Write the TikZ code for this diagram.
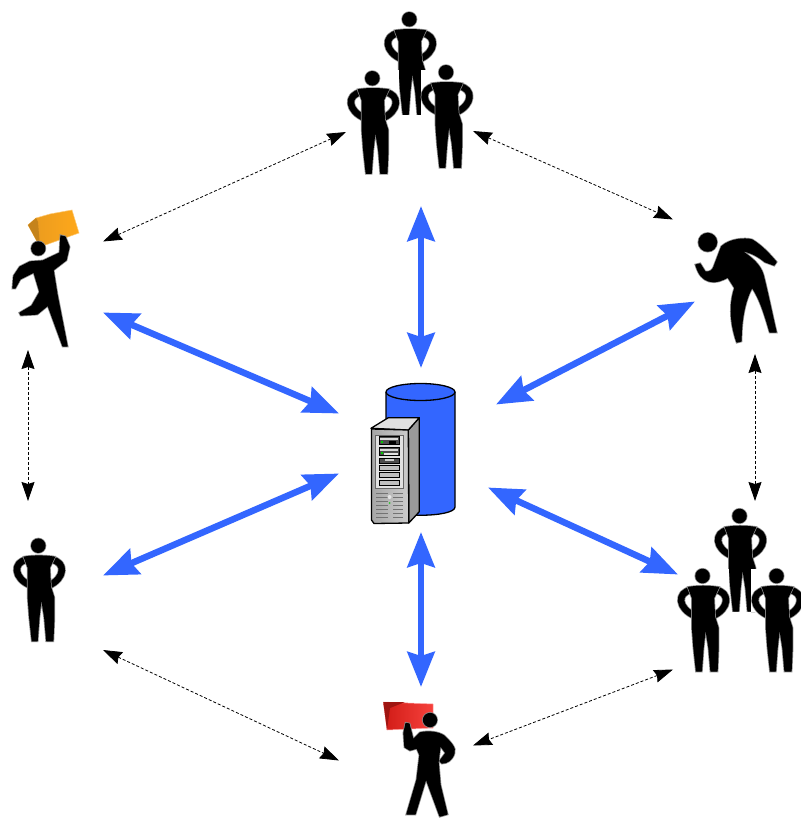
\documentclass[tikz,border=0pt]{standalone}
\usetikzlibrary{arrows.meta,shapes.geometric}
\definecolor{dbblue}{HTML}{3366FF}
\definecolor{folderor}{HTML}{FFA81A}
\definecolor{folderdk}{HTML}{E89A20}
\definecolor{folderrd}{HTML}{F5201A}
\tikzset{
  fig/.style={preaction={draw=black!45,line width=2.8pt},fill=black,draw=black,line width=1.3pt,line join=round},
  limb/.style={draw=black,line cap=round,line join=round,line width=6.5pt},
  limbglow/.style={draw=black!45,line cap=round,line join=round,line width=8pt},
  bigarrow/.style={draw=dbblue,line width=6.5pt,{Stealth[length=35pt,width=27pt,inset=4pt]}-{Stealth[length=35pt,width=27pt,inset=4pt]}},
  thinarrow/.style={draw=black,line width=.8pt,dash pattern=on 3pt off 2pt,{Stealth[length=19pt,width=13pt,inset=2pt]}-{Stealth[length=19pt,width=13pt,inset=2pt]}},
  srv/.style={draw=black,line width=1.3pt,line join=round},
  bay/.style={draw=black,fill=black!25,line width=.5pt}
}
\newcommand{\standfig}[2]{%
  \begin{scope}[shift={(#1,#2)}]
    \path[limbglow] (-11,14) .. controls (-26,16) and (-25,33) .. (-7,40);
    \path[limbglow] (13,14) .. controls (28,16) and (27,33) .. (10,40);
    \path[limb] (-11,14) .. controls (-26,16) and (-25,33) .. (-7,40);
    \path[limb] (13,14) .. controls (28,16) and (27,33) .. (10,40);
    \path[fig] (0,0) circle (6.6);
    \path[fig] (-14,11.5) .. controls (-5,10) and (6,10) .. (16,11.5) -- (11,22) -- (12,41) -- (15.5,52) -- (15.5,72) -- (14.5,95) -- (8.5,95) -- (6.5,72) -- (3,50) -- (0.5,72) -- (-1.2,95) -- (-6,95) -- (-8.5,72) -- (-10,52) -- (-10,41) -- (-10,22) -- cycle;
  \end{scope}}
\begin{document}
\begin{tikzpicture}[x=1pt,y=-1pt]
\useasboundingbox (0,0) rectangle (800,818);
\fill[white] (0,0) rectangle (800,818);

% top group
\standfig{409.3}{19.3}
\fill[white] (390,70) rectangle (398.5,116);
\fill[white] (420.5,70) rectangle (430,116);
\fill[white] (398,115.5) rectangle (421,119);
\standfig{372.3}{78.3}
\standfig{446}{72.3}
% bottom-right group
\standfig{739.5}{516}
\fill[white] (720,569) rectangle (729,612);
\fill[white] (751,569) rectangle (760,612);
\fill[white] (729,612) rectangle (751,616);
\standfig{702.5}{576}
\standfig{776.5}{576}
% single person
\standfig{38.3}{545.7}

% walking figure with orange folder
\shade[left color=folderdk,right color=folderor,draw=folderor!60!white,line width=.5pt] (28,225) -- (36,218) -- (50,214) -- (72,210) -- (79,233) -- (40,247) -- cycle;
\fill[folderdk!85!black] (28,225) -- (36,218) -- (38,222) -- (40,247) -- cycle;
\path[fig] (38.3,248.5) circle (6.5);
\path[fig] (30,262) -- (43,261) -- (60,253) -- (61,236) -- (65,237) -- (69,247) -- (66,260) -- (53,270) -- (57,295) -- (67,346) -- (63,346) -- (48,305) -- (37,314) -- (21,315) -- (20,313) -- (32,306) -- (40,292) -- (34,272) -- (20,279) -- (15,288) -- (13,288) -- (14,276) -- (20,267) -- cycle;

% bending man
\path[fig] (707.7,242.3) circle (8.8);
\path[fig] (721.7,246.7) .. controls (730,239) and (745,238) .. (752,240) .. controls (762,246) and (770,255) .. (776,262) -- (774,265) -- (765,261.7) .. controls (757,255) and (750,252) .. (740,250) .. controls (752,258) and (760,265) .. (763,275) .. controls (768,295) and (772,315) .. (776,332) -- (770,332) .. controls (765,315) and (760,298) .. (752,287) .. controls (745,300) and (741,318) .. (741,341) -- (737,342) .. controls (731,325) and (729,305) .. (735,288) -- (728,277) .. controls (722,280) and (716,283) .. (709,281) .. controls (703,279) and (699,275) .. (696,265) -- (700,264) -- (705,272) .. controls (710,273) and (713,270) .. (714,267) -- cycle;

% red folder figure
\shade[left color=folderrd!85!black,right color=folderrd!85!white,draw=red!35!white,line width=.5pt] (383.3,702) -- (433,704) -- (433,728) -- (387,730) -- cycle;
\fill[folderrd!65!black] (383.3,702) -- (405,702) -- (390,708) -- (387,730) -- cycle;
\path[fig] (430,720) circle (6.5);
\path[fig] (406,723.5) -- (409,724) -- (413,740) -- (420,733) .. controls (428,731) and (438,732) .. (444,736) .. controls (450,742) and (456,748) .. (454,753) .. controls (452,760) and (447,763) .. (442,763) -- (440,761) -- (446,753) -- (440,745) -- (438,762) -- (440,785) -- (447,814) -- (440,816) -- (426,778) -- (415,814) -- (407,814) -- (417,780) -- (420,755) -- (417,748) -- (410,750) -- (405,747) -- (404,733) -- cycle;

% database cylinder and server
\path[srv,fill=dbblue] (386,392) -- (386,507) .. controls (386,518) and (455,518) .. (455,507) -- (455,392);
\path[srv,fill=dbblue] (420.5,392) ellipse [x radius=34.5,y radius=8.5];
\path[srv,fill=black!40] (408.3,430) -- (419.3,417.7) -- (419.3,511.7) -- (408.8,523) -- cycle;
\path[srv,fill=black!12] (371,428.3) -- (388.3,417.7) -- (419.3,417.7) -- (408.3,430) -- cycle;
\shade[left color=black!35,right color=black!20,draw=black,line width=1.3pt,line join=round] (371.5,429) -- (408.3,430) -- (408.8,523) -- (374,523.5) -- (371.5,520) -- cycle;
\fill[black!60] (375,434.5) rectangle (403.5,488.5);
\fill[black!12] (376,435.5) rectangle (402.5,487.5);
\path[bay,fill=black!70] (379,436.5) rectangle (399.5,444.5);
\fill[black!15] (380,438) rectangle (398,440);
\fill[black] (389,441) rectangle (396,444);
\fill[green!80!black] (380.5,440.5) rectangle (382.5,442.5);
\path[bay,fill=black!70] (379,447.5) rectangle (399.5,455.5);
\fill[black!15] (380,449) rectangle (398,451);
\fill[black!10] (384,453) rectangle (398,455);
\fill[green!80!black] (380.5,452) rectangle (382.5,454);
\path[bay,fill=black!70] (379,458) rectangle (399.5,463.5);
\fill[black!20] (385,459) rectangle (394,461);
\path[bay] (379,465.5) rectangle (399.5,470.5);
\path[bay] (379,472.5) rectangle (399.5,477.5);
\path[bay] (379,480) rectangle (399.5,485);
\foreach \yy in {493,497,501,505,509,513,517}{
  \draw[black!55,line width=.8pt] (376,\yy) -- (388,\yy);
  \draw[black!55,line width=.8pt] (393,\yy) -- (403,\yy);
}
\fill[black!10] (389.5,497) circle (2);
\fill[green!70!black!80] (389.5,503) circle (1);

% connector ends
\coordinate (srvN) at (421,368);
\coordinate (srvS) at (421,532);
\coordinate (srvNW) at (339,413.5);
\coordinate (srvSW) at (339,473.5);
\coordinate (srvNE) at (496,404.5);
\coordinate (srvSE) at (488,487.5);
\coordinate (grpS) at (421,206);
\coordinate (redN) at (421,687);
\coordinate (folderSE) at (103,312.5);
\coordinate (singleNE) at (103,575.5);
\coordinate (bendSW) at (695,301.5);
\coordinate (grpbW) at (678,574.5);
\coordinate (grpL) at (346,132);
\coordinate (grpR) at (473,131);
\coordinate (folderNE) at (103,241.5);
\coordinate (bendNW) at (673,219.5);
\coordinate (bendS) at (755,354);
\coordinate (grpbN) at (755,501);
\coordinate (folderS) at (28,350);
\coordinate (singleN) at (28,501);
\coordinate (singleSE) at (103,650);
\coordinate (redNW) at (339,760.5);
\coordinate (grpbSW) at (673,669.5);
\coordinate (redE) at (473,745.5);

\draw[bigarrow] (grpS) -- (srvN);
\draw[bigarrow] (srvS) -- (redN);
\draw[bigarrow] (folderSE) -- (srvNW);
\draw[bigarrow] (singleNE) -- (srvSW);
\draw[bigarrow] (bendSW) -- (srvNE);
\draw[bigarrow] (grpbW) -- (srvSE);

\draw[thinarrow] (grpL) -- (folderNE);
\draw[thinarrow] (grpR) -- (bendNW);
\draw[thinarrow] (bendS) -- (grpbN);
\draw[thinarrow] (folderS) -- (singleN);
\draw[thinarrow] (singleSE) -- (redNW);
\draw[thinarrow] (grpbSW) -- (redE);
\end{tikzpicture}
\end{document}
